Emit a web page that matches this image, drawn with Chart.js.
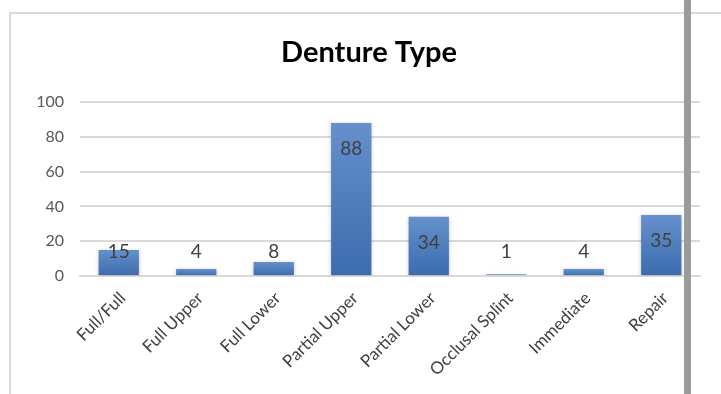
<!DOCTYPE html>
<html>
<head>
<meta charset="utf-8">
<script src="https://cdn.jsdelivr.net/npm/chart.js@4.4.1/dist/chart.umd.min.js"></script>
<style>
  html, body { margin: 0; padding: 0; background: #fff; overflow: hidden; }
  #wrap { position: relative; width: 721px; height: 394px; }
  #frame { position: absolute; left: 9px; top: 12px; width: 760px; height: 420px;
           border: 2px solid #d9d9d9; box-sizing: border-box; }
  #edge { position: absolute; left: 684px; top: 0; width: 7px; height: 394px; background: #9b9b9b; }
  canvas { position: absolute; left: 0; top: 0; }
</style>
</head>
<body>
<div id="wrap">
  <div id="frame"></div>
  <canvas id="c" width="721" height="394"></canvas>
  <div id="edge"></div>
</div>
<script>
const categories = ['Full/Full', 'Full Upper', 'Full Lower', 'Partial Upper', 'Partial Lower', 'Occlusal Splint', 'Immediate', 'Repair'];
const counts = [15, 4, 8, 88, 34, 1, 4, 35];
const yTicks = [0, 20, 40, 60, 80, 100];
const chartTitle = 'Denture Type';

const FONT = 'Lato, "Open Sans", sans-serif';

// vertical gradient for each bar, lighter at its top
function barFill(ctx) {
  const chart = ctx.chart;
  const y = chart.scales.y;
  if (!y || ctx.raw == null) return '#4a7cc0';
  const top = y.getPixelForValue(ctx.raw);
  const bottom = y.getPixelForValue(0);
  if (!isFinite(top) || !isFinite(bottom) || bottom - top < 1) return '#5a88c8';
  const g = chart.ctx.createLinearGradient(0, top, 0, bottom);
  g.addColorStop(0, '#6590cc');
  g.addColorStop(1, '#3b6cae');
  return g;
}

// heading text
const titlePlugin = {
  id: 'heading',
  afterDraw(chart) {
    const c = chart.ctx;
    c.save();
    c.font = 'bold 29px ' + FONT;
    c.fillStyle = '#000';
    c.textAlign = 'center';
    c.textBaseline = 'alphabetic';
    c.fillText(chartTitle, 369, 62);
    c.restore();
  }
};

// soft shadow under the bars
const shadowPlugin = {
  id: 'barShadow',
  beforeDatasetDraw(chart) {
    const c = chart.ctx;
    c.save();
    c.shadowColor = 'rgba(0,0,0,0.25)';
    c.shadowBlur = 4;
    c.shadowOffsetX = 0;
    c.shadowOffsetY = 1;
  },
  afterDatasetDraw(chart) { chart.ctx.restore(); }
};

// value labels: inside the bar near its top, kept above the axis for short bars
const valueLabels = {
  id: 'valueLabels',
  afterDatasetsDraw(chart) {
    const c = chart.ctx;
    const meta = chart.getDatasetMeta(0);
    const zeroY = chart.scales.y.getPixelForValue(0);
    c.save();
    c.font = '19px ' + FONT;
    c.fillStyle = '#404040';
    c.textAlign = 'center';
    c.textBaseline = 'middle';
    meta.data.forEach((bar, i) => {
      const y = Math.min(bar.y + 26, zeroY - 24);
      c.fillText(String(counts[i]), bar.x, y);
    });
    c.restore();
  }
};

new Chart(document.getElementById('c'), {
  type: 'bar',
  data: {
    labels: categories,
    datasets: [{
      data: counts,
      backgroundColor: barFill,
      borderWidth: 0,
      barPercentage: 0.52,
      categoryPercentage: 1
    }]
  },
  options: {
    responsive: false,
    animation: false,
    devicePixelRatio: 1,
    layout: { padding: { left: 0, right: 21, top: 102, bottom: 0 } },
    plugins: { legend: { display: false }, title: { display: false }, tooltip: { enabled: false } },
    scales: {
      x: {
        grid: { display: false, drawTicks: false },
        border: { display: true, color: '#d9d9d9', width: 2 },
        ticks: {
          color: '#404040',
          font: { family: FONT, size: 17 },
          maxRotation: 45, minRotation: 45,
          padding: 12,
          labelOffset: 4,
          autoSkip: false
        },
        afterFit(s) { s.height = 118; }
      },
      y: {
        min: 0, max: 100,
        afterBuildTicks(s) { s.ticks = yTicks.map(v => ({ value: v })); },
        grid: { color: '#d9d9d9', lineWidth: 2, drawTicks: false },
        border: { display: false },
        ticks: { color: '#595959', font: { family: FONT, size: 16 }, padding: 16 },
        afterFit(s) { s.width = 80; }
      }
    }
  },
  plugins: [shadowPlugin, valueLabels, titlePlugin]
});
</script>
</body>
</html>
